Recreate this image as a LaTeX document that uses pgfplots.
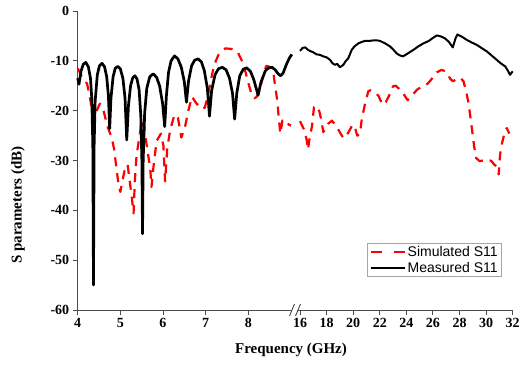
\documentclass[border=0pt]{standalone}
\usepackage{fontspec}
\setmainfont{Liberation Serif}
\setsansfont{Liberation Sans}
\usepackage{pgfplots}
\pgfplotsset{compat=1.18}
\definecolor{axgray}{RGB}{75,75,75}
\definecolor{simred}{RGB}{255,0,0}
\pgfplotsset{
  brk/.style={
    scale only axis, height=299pt,
    ymin=-60, ymax=0,
    clip=false,
    axis x line*=bottom,
    x axis line style={-},
    y axis line style={-},
    axis line style={axgray, line width=0.9pt},
    tick style={axgray, line width=0.9pt},
    tick align=outside,
    major tick length=5pt,
    minor tick num=0,
    ticklabel style={font=\fontsize{14}{16}\selectfont\bfseries},
    /pgf/number format/assume math mode=true,
  },
  simstyle/.style={simred, line width=2.2pt, dash pattern=on 9pt off 7pt, line join=round},
}
\begin{document}
\begin{tikzpicture}[x=1pt,y=1pt]
\path[use as bounding box] (0,0) rectangle (520,365);
% ---------- low band ----------
\begin{axis}[brk, at={(77.7pt,55pt)}, anchor=south west,
  width=214.3pt, xmin=4, xmax=9.025,
  axis y line*=left,
  xtick={4,5,6,7,8}, ytick={0,-10,-20,-30,-40,-50,-60}]
\addplot[simstyle] coordinates {
(4.00,-11.5)(4.10,-13.2)(4.22,-14.6)(4.30,-18)(4.36,-21.8)(4.42,-20.5)(4.52,-18.6)(4.60,-19.8)
(4.70,-23.2)(4.80,-25.5)(4.86,-28)(4.90,-31)(4.96,-35)(5.00,-36.3)(5.05,-34)(5.10,-32)(5.17,-30.8)
(5.23,-34.8)(5.27,-37.5)(5.31,-40.6)(5.34,-34)(5.38,-29)(5.45,-25)(5.50,-22)(5.56,-23.5)(5.65,-28.8)
(5.70,-31.5)(5.73,-35.3)(5.78,-31)(5.85,-26.1)(5.95,-24.6)(6.01,-27)(6.05,-34.2)(6.10,-27.5)
(6.17,-23.8)(6.27,-20.8)(6.35,-21.4)(6.43,-25.4)(6.52,-23.1)(6.60,-19.8)(6.68,-17.2)(6.78,-18.5)
(6.90,-19.6)(6.98,-19.4)(7.05,-17.1)(7.12,-14)(7.20,-10.8)(7.30,-8.8)(7.46,-7.5)(7.60,-7.6)
(7.75,-8.2)(7.85,-10)(7.94,-12.4)(7.99,-14.1)(8.07,-16.5)(8.15,-17.5)(8.20,-17.2)(8.28,-15.5)
(8.35,-13)(8.42,-11.0)(8.50,-11.2)(8.59,-12.5)(8.63,-15.1)(8.68,-18)(8.71,-21)(8.75,-24.6)
(8.80,-22)(8.87,-21.8)(8.95,-22.8)(9.00,-23)
};
\addplot[black, line width=2.7pt, line join=round] coordinates {
(4.00,-13.5)(4.03,-14.7)(4.08,-12.0)(4.13,-10.7)(4.19,-10.3)(4.25,-11.2)(4.30,-13.5)(4.33,-17.5)
(4.355,-27)(4.37,-55)(4.385,-27)(4.41,-18)(4.46,-12.8)(4.51,-11.0)(4.57,-10.5)(4.63,-11.2)
(4.68,-13.2)(4.72,-17)(4.75,-23.6)(4.78,-17.5)(4.83,-13.2)(4.88,-11.5)(4.94,-11.1)(5.00,-11.6)
(5.06,-13.5)(5.11,-17.5)(5.15,-25.9)(5.19,-19)(5.24,-15)(5.29,-13.4)(5.34,-13.0)(5.39,-13.6)
(5.44,-15.8)(5.48,-21)(5.505,-30)(5.52,-44.7)(5.535,-30)(5.57,-20.5)(5.62,-15.5)(5.69,-13.2)
(5.77,-12.6)(5.85,-13.3)(5.92,-15)(5.99,-18.5)(6.04,-23.2)(6.08,-17)(6.13,-12.3)(6.19,-10)
(6.27,-9.0)(6.35,-9.6)(6.43,-11.3)(6.50,-14.2)(6.55,-18.3)(6.60,-14)(6.67,-11)(6.74,-9.9)
(6.82,-9.6)(6.90,-10.2)(6.97,-12)(7.04,-15.5)(7.09,-21.1)(7.14,-16)(7.22,-12.8)(7.30,-11.6)
(7.39,-11.3)(7.48,-11.8)(7.56,-13.5)(7.63,-16.5)(7.68,-21.7)(7.73,-16.5)(7.80,-13)(7.88,-11.7)
(7.96,-11.4)(8.05,-12.1)(8.13,-13.8)(8.23,-16.9)(8.30,-14.2)(8.40,-12)(8.48,-11.4)(8.56,-11.3)
(8.63,-11.8)(8.70,-12.6)(8.76,-13.0)(8.82,-12.4)(8.89,-10.8)(8.96,-9.5)(9.02,-8.7)
};
\end{axis}
% ---------- high band ----------
\begin{axis}[brk, at={(297pt,55pt)}, anchor=south west,
  width=215.7pt, xmin=15.774, xmax=32,
  axis y line=none,
  xtick={16,18,...,32},
  legend style={at={(axis description cs:0.9504,0.224)}, anchor=north east,
    draw=gray!70, line width=0.6pt, fill=white,
    font=\sffamily\fontsize{14}{15}\selectfont,
    inner xsep=2pt, inner ysep=1pt, row sep=0pt,
    /tikz/every even column/.append style={column sep=1pt}},
  legend cell align=left,
  legend image code/.code={\draw[#1] (0pt,0pt) -- (34pt,0pt);}]
\addlegendimage{simred, line width=2.2pt, dash pattern=on 11pt off 12pt}
\addlegendentry{Simulated S11}
\addlegendimage{black, line width=1.8pt}
\addlegendentry{Measured S11}
\addplot[simstyle, forget plot] coordinates {
(16.0,-22.1)(16.3,-23.8)(16.5,-25.8)(16.6,-27.8)(16.75,-25)(16.9,-23.2)(17.05,-19.3)(17.2,-19)
(17.45,-20.1)(17.6,-21.8)(17.75,-24.3)(17.95,-23.5)(18.13,-22.6)(18.4,-22)(18.7,-23)(18.88,-23.8)
(19.1,-24.8)(19.26,-25.5)(19.45,-25.2)(19.63,-24.4)(19.96,-22.8)(20.15,-23.5)(20.3,-25)(20.5,-24.8)
(20.64,-21.8)(20.9,-18.5)(21.14,-16.1)(21.3,-15.9)(21.6,-16.3)(21.9,-17)(22.2,-18.8)(22.45,-18.3)
(22.7,-17)(23.0,-15.1)(23.2,-15)(23.45,-15.6)(23.7,-16.3)(24.1,-17.9)(24.35,-17.2)(24.8,-15.8)
(25.2,-15.1)(25.6,-14.6)(25.95,-13.5)(26.3,-12.3)(26.65,-11.8)(27.0,-12.2)(27.3,-13.6)(27.5,-14.1)
(27.9,-13.5)(28.05,-13.4)(28.3,-14.1)(28.55,-16.8)(28.7,-18.8)(28.85,-22)(29.0,-25)(29.1,-27.2)
(29.25,-29.5)(29.5,-30.1)(29.8,-30)(30.1,-29.8)(30.4,-30.1)(30.6,-30.8)(30.8,-31.2)(30.95,-32.8)
(31.05,-28.8)(31.2,-26.5)(31.4,-24.3)(31.55,-23.5)(31.75,-24.6)
};
\addplot[black, line width=2.0pt, line join=round, forget plot] coordinates {
(16.0,-8.0)(16.2,-7.4)(16.4,-7.3)(16.6,-7.8)(16.75,-8.0)(17.0,-8.3)(17.25,-8.7)(17.5,-8.8)
(17.75,-9.1)(18.0,-9.3)(18.26,-9.8)(18.45,-10.5)(18.63,-10.8)(18.8,-10.6)(19.0,-11.3)(19.26,-10.8)
(19.45,-10.0)(19.63,-9.5)(19.89,-7.8)(20.1,-7.1)(20.39,-6.5)(20.65,-6.2)(20.89,-6.0)(21.2,-6.0)
(21.52,-5.9)(21.8,-5.9)(22.02,-6.0)(22.4,-6.5)(22.77,-7.1)(23.0,-7.7)(23.27,-8.5)(23.5,-8.9)
(23.75,-9.1)(24.0,-8.7)(24.53,-7.8)(24.9,-7.1)(25.28,-6.5)(25.7,-6.0)(26.0,-5.4)(26.29,-4.9)
(26.6,-5.1)(26.91,-5.5)(27.2,-6.2)(27.49,-7.3)(27.7,-5.5)(27.84,-4.7)(28.2,-5.2)(28.55,-5.8)
(28.9,-6.3)(29.3,-6.8)(29.7,-7.5)(30.05,-8.1)(30.4,-8.9)(30.8,-9.8)(31.1,-10.5)(31.43,-11.1)
(31.6,-11.8)(31.8,-12.8)(32.0,-12.1)
};
\end{axis}
% axis break marks
\draw[axgray, line width=0.9pt] (289.5,49) -- (294.5,61);
\draw[axgray, line width=0.9pt] (295.5,49) -- (300.5,61);
% axis titles
\node[font=\fontsize{15}{17}\selectfont\bfseries] at (291,15) {Frequency (GHz)};
\node[font=\fontsize{15}{17}\selectfont\bfseries, rotate=90] at (18,160) {S parameters (dB)};
\end{tikzpicture}
\end{document}
